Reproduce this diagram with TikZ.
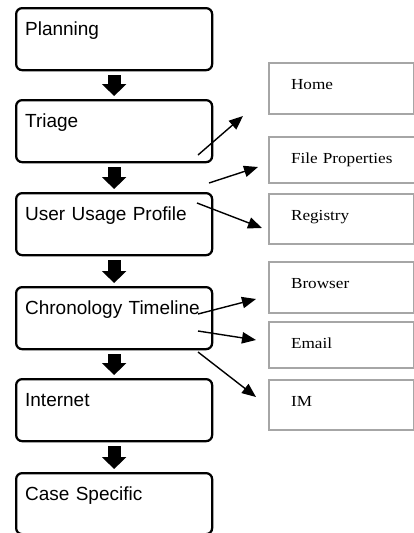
\documentclass[tikz,border=0pt]{standalone}
\usepackage{fontspec}
\setmainfont{Liberation Sans}
\newfontfamily\serifx[FakeStretch=1.12]{Liberation Serif}
\usetikzlibrary{arrows.meta,calc}
\begin{document}
\begin{tikzpicture}[x=0.75pt,y=-0.75pt,
  stage/.style={draw=black, line width=1.7pt, rounded corners=4.5pt,
    anchor=north west, inner xsep=6.75pt, inner ysep=0pt,
    text width=133.5pt, align=left, text height=20.25pt, text depth=26.25pt,
    font=\fontsize{14.25pt}{17pt}\selectfont},
  item/.style={draw=black!35, line width=1.6pt, anchor=north west,
    inner xsep=16.5pt, inner ysep=0pt, text width=75.75pt, align=left,
    text height=19.5pt, font=\serifx\fontsize{11.5pt}{13pt}\selectfont},
  blockarr/.style={line width=9.75pt, shorten <=3pt, shorten >=2.25pt,
    -{Triangle[width=18pt,length=9pt]}},
  thin/.style={line width=1.05pt, -{Triangle[width=8.5pt,length=10.5pt]}}]
\useasboundingbox (0,0) rectangle (414,533);
\clip (0,0) rectangle (414,533);
% left stages
\node[stage] (plan) at (15,7) {Planning};
\node[stage] (tri) at (15,99) {Triage};
\node[stage] (uup) at (15,192) {User Usage Profile};
\node[stage] (chr) at (15,286) {Chronology Timeline};
\node[stage] (int) at (15,378) {Internet};
\node[stage, text depth=25.5pt] (cas) at (15,472) {Case Specific};
% block arrows
\draw[blockarr] (plan) -- (tri);
\draw[blockarr] (tri) -- (uup);
\draw[blockarr] (uup) -- (chr);
\draw[blockarr] (chr) -- (int);
\draw[blockarr] (int) -- (cas);
% right items
\node[item, text depth=18.75pt] (home) at (268,62) {Home};
\node[item, text depth=15pt, text width=81pt] (file) at (268,136) {File Properties};
\node[item, text depth=18pt] (reg) at (268,193) {Registry};
\node[item, text depth=18.75pt] (brw) at (268,261) {Browser};
\node[item, text depth=15pt] (eml) at (268,321) {Email};
\node[item, text depth=18pt] (im) at (268,379) {IM};
% thin arrows
\coordinate (a1) at (198,155); \coordinate (b1) at (243,116);
\coordinate (a2) at (209,183); \coordinate (b2) at (258,167);
\coordinate (a3) at (197,203); \coordinate (b3) at (262,228);
\coordinate (a4) at (198,314); \coordinate (b4) at (256,299);
\coordinate (a5) at (198,331); \coordinate (b5) at (256,340);
\coordinate (a6) at (198,352); \coordinate (b6) at (256,397);
\draw[thin] (a1) -- (b1);
\draw[thin] (a2) -- (b2);
\draw[thin] (a3) -- (b3);
\draw[thin] (a4) -- (b4);
\draw[thin] (a5) -- (b5);
\draw[thin] (a6) -- (b6);
\end{tikzpicture}
\end{document}
